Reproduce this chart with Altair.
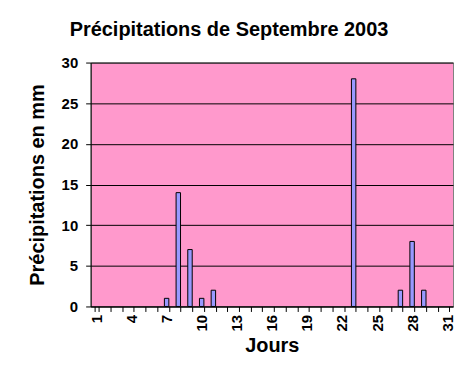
import altair as alt
import pandas as pd

days = list(range(1, 32))
rain_days = [7, 8, 9, 10, 11, 23, 27, 28, 29]
rain_mm = [1, 14, 7, 1, 2, 28, 2, 8, 2]
y_ticks = [0, 5, 10, 15, 20, 25, 30]

df = pd.DataFrame({"jour": rain_days, "mm": rain_mm})

FONT = "Liberation Sans"

bars = alt.Chart(df).mark_bar(
    fill="#9999FF", stroke="#000000", strokeWidth=1
).encode(
    x=alt.X(
        "jour:O",
        scale=alt.Scale(domain=days, paddingInner=0.62, paddingOuter=0.31),
        axis=alt.Axis(
            title="Jours",
            labelAngle=270,
            labelExpr="(datum.value - 1) % 3 == 0 ? datum.label : ''",
            tickBand="extent",
            labelFont=FONT, labelFontSize=15, labelFontWeight="bold",
            labelColor="#000000", labelPadding=3,
            titleFont=FONT, titleFontSize=20, titleFontWeight="bold",
            titleColor="#000000", titlePadding=5,
            domainColor="#000000", tickColor="#000000", tickSize=5,
            grid=False,
        ),
    ),
    y=alt.Y(
        "mm:Q",
        scale=alt.Scale(domain=[0, 30], nice=False),
        axis=alt.Axis(
            title="Précipitations en mm",
            values=y_ticks,
            labelFont=FONT, labelFontSize=15, labelFontWeight="bold",
            labelColor="#000000", labelPadding=8,
            titleFont=FONT, titleFontSize=20, titleFontWeight="bold",
            titleColor="#000000", titlePadding=14,
            domainColor="#000000", tickColor="#000000", tickSize=5,
            grid=True, gridColor="#000000", gridWidth=1, gridOpacity=1,
        ),
    ),
)

chart = bars.properties(
    width=364,
    height=245,
    autosize="none",
    padding={"left": 83, "top": 54, "right": 3, "bottom": 60},
    title=alt.TitleParams(
        "Précipitations de Septembre 2003",
        font=FONT, fontSize=20, fontWeight="bold", color="#000000",
        anchor="middle", dx=-43, offset=16,
    ),
    background="#FFFFFF",
).configure_view(
    fill="#FF99CC", stroke="#808080", strokeWidth=1
)

chart.save("out.html", embed_options={"renderer": "svg", "actions": False})
